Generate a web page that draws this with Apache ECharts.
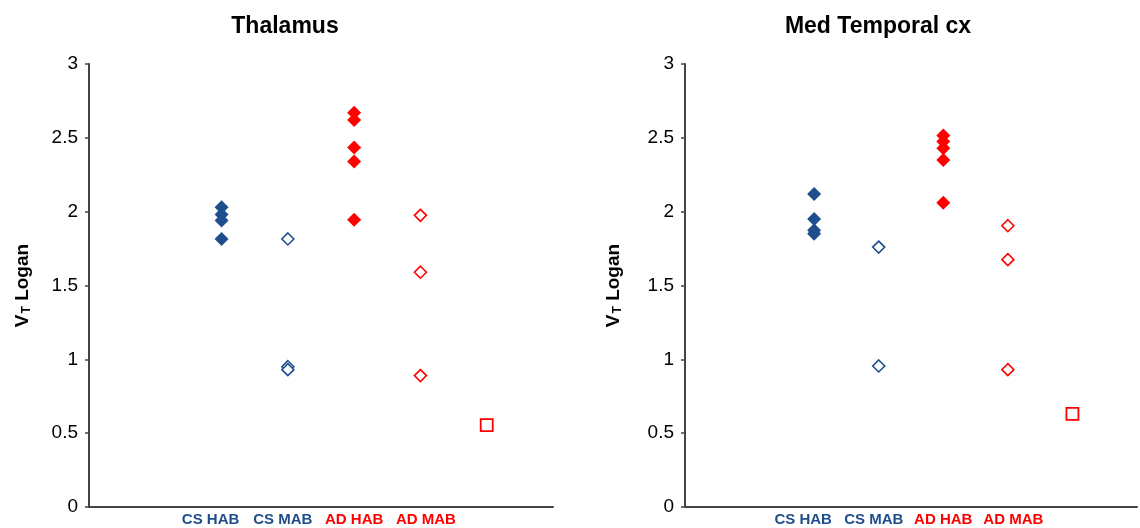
<!DOCTYPE html>
<html>
<head>
<meta charset="utf-8">
<script src="https://cdn.jsdelivr.net/npm/echarts@6/dist/echarts.min.js"></script>
<style>
  html, body { margin: 0; padding: 0; background: #fff; }
  #chart { width: 1140px; height: 528px; }
</style>
</head>
<body>
<div id="chart"></div>
<script>
// 分组标签（x 轴位置 2..5），第 6 位是无标签的方块点
const groupLabels = ['CS HAB', 'CS MAB', 'AD HAB', 'AD MAB']
const yTicks = [0, 0.5, 1, 1.5, 2, 2.5, 3]

// Thalamus
const thalCsHab = [2.03, 1.98, 1.94, 1.815]
const thalCsMab = [1.815, 0.95, 0.93]
const thalAdHab = [2.67, 2.62, 2.435, 2.34, 1.945]
const thalAdMab = [1.975, 1.59, 0.89]
const thalExtra = [0.555]

// Med Temporal cx
const mtcCsHab = [2.12, 1.95, 1.875, 1.85]
const mtcCsMab = [1.76, 0.955]
const mtcAdHab = [2.515, 2.475, 2.43, 2.35, 2.06]
const mtcAdMab = [1.905, 1.675, 0.93]
const mtcExtra = [0.63]

const BLUE = '#1f4e8c'
const RED = '#ff0000'
const FONT = 'Liberation Sans, Arial'

const chart = echarts.init(document.getElementById('chart'))

// 轴标签样式：略微错开，与原图一致
const labelRich = {
  a: { color: BLUE, fontWeight: 'bold', fontSize: 15, fontFamily: FONT, padding: [0, 22, 0, 0] },
  b: { color: BLUE, fontWeight: 'bold', fontSize: 15, fontFamily: FONT, padding: [0, 10, 0, 0] },
  c: { color: RED, fontWeight: 'bold', fontSize: 15, fontFamily: FONT, padding: [0, 0, 0, 0] },
  d: { color: RED, fontWeight: 'bold', fontSize: 15, fontFamily: FONT, padding: [0, 0, 0, 11] }
}
const richKeys = ['a', 'b', 'c', 'd']

const pts = (x, arr) => arr.map(v => [x, v])

const filled = color => ({ color, opacity: 1 })
const hollow = (color, w) => ({ color: '#fff', borderColor: color, borderWidth: w, opacity: 1 })

const makeSeries = (idx, csHab, csMab, adHab, adMab, extra) => [
  {
    type: 'scatter', xAxisIndex: idx, yAxisIndex: idx,
    symbol: 'diamond', symbolSize: 14,
    itemStyle: filled(BLUE),
    data: pts(2, csHab)
  },
  {
    type: 'scatter', xAxisIndex: idx, yAxisIndex: idx,
    symbol: 'diamond', symbolSize: 12,
    itemStyle: hollow(BLUE, 1.6),
    data: pts(3, csMab)
  },
  {
    type: 'scatter', xAxisIndex: idx, yAxisIndex: idx,
    symbol: 'diamond', symbolSize: 14,
    itemStyle: filled(RED),
    data: pts(4, adHab)
  },
  {
    type: 'scatter', xAxisIndex: idx, yAxisIndex: idx,
    symbol: 'diamond', symbolSize: 12,
    itemStyle: hollow(RED, 1.6),
    data: pts(5, adMab)
  },
  {
    type: 'scatter', xAxisIndex: idx, yAxisIndex: idx,
    symbol: 'rect', symbolSize: 12,
    itemStyle: hollow(RED, 1.8),
    data: pts(6, extra)
  }
]

const makeXAxis = idx => ({
  type: 'value', gridIndex: idx,
  min: 0, max: 7, interval: 1,
  splitLine: { show: false },
  axisTick: { show: false },
  axisLine: { show: true, lineStyle: { color: '#444', width: 2 } },
  axisLabel: {
    margin: 5,
    showMinLabel: true, showMaxLabel: true,
    formatter: v => {
      const i = Math.round(v) - 2
      if (i < 0 || i >= groupLabels.length) return ''
      return '{' + richKeys[i] + '|' + groupLabels[i] + '}'
    },
    rich: labelRich
  }
})

const makeYAxis = (idx, gap) => ({
  type: 'value', gridIndex: idx,
  min: yTicks[0], max: yTicks[yTicks.length - 1], interval: 0.5,
  splitLine: { show: false },
  axisLine: { show: true, lineStyle: { color: '#444', width: 2 } },
  axisTick: { show: true, length: 4, lineStyle: { color: '#444', width: 1.5 } },
  axisLabel: { color: '#000', fontSize: 19, fontFamily: FONT, margin: 11 },
  name: '{v|V}{s|T}{v| Logan}',
  nameLocation: 'middle',
  nameRotate: 90,
  nameGap: gap,
  nameTextStyle: {
    rich: {
      v: { fontSize: 19, fontWeight: 'bold', color: '#000', fontFamily: FONT },
      s: { fontSize: 12, fontWeight: 'bold', color: '#000', fontFamily: FONT, verticalAlign: 'bottom', padding: [8, 0, 0, 1] }
    }
  }
})

const option = {
  animation: false,
  backgroundColor: '#fff',
  title: [
    {
      text: 'Thalamus', left: 280, top: 10, textAlign: 'center',
      textStyle: { fontSize: 23, fontWeight: 'bold', color: '#000', fontFamily: FONT }
    },
    {
      text: 'Med Temporal cx', left: 873, top: 10, textAlign: 'center',
      textStyle: { fontSize: 23, fontWeight: 'bold', color: '#000', fontFamily: FONT }
    }
  ],
  grid: [
    { left: 89, top: 64, width: 464, height: 443 },
    { left: 685, top: 64, width: 464, height: 443 }
  ],
  xAxis: [makeXAxis(0), makeXAxis(1)],
  yAxis: [makeYAxis(0, 56), makeYAxis(1, 61)],
  series: [
    ...makeSeries(0, thalCsHab, thalCsMab, thalAdHab, thalAdMab, thalExtra),
    ...makeSeries(1, mtcCsHab, mtcCsMab, mtcAdHab, mtcAdMab, mtcExtra)
  ]
}

chart.setOption(option)
</script>
</body>
</html>
